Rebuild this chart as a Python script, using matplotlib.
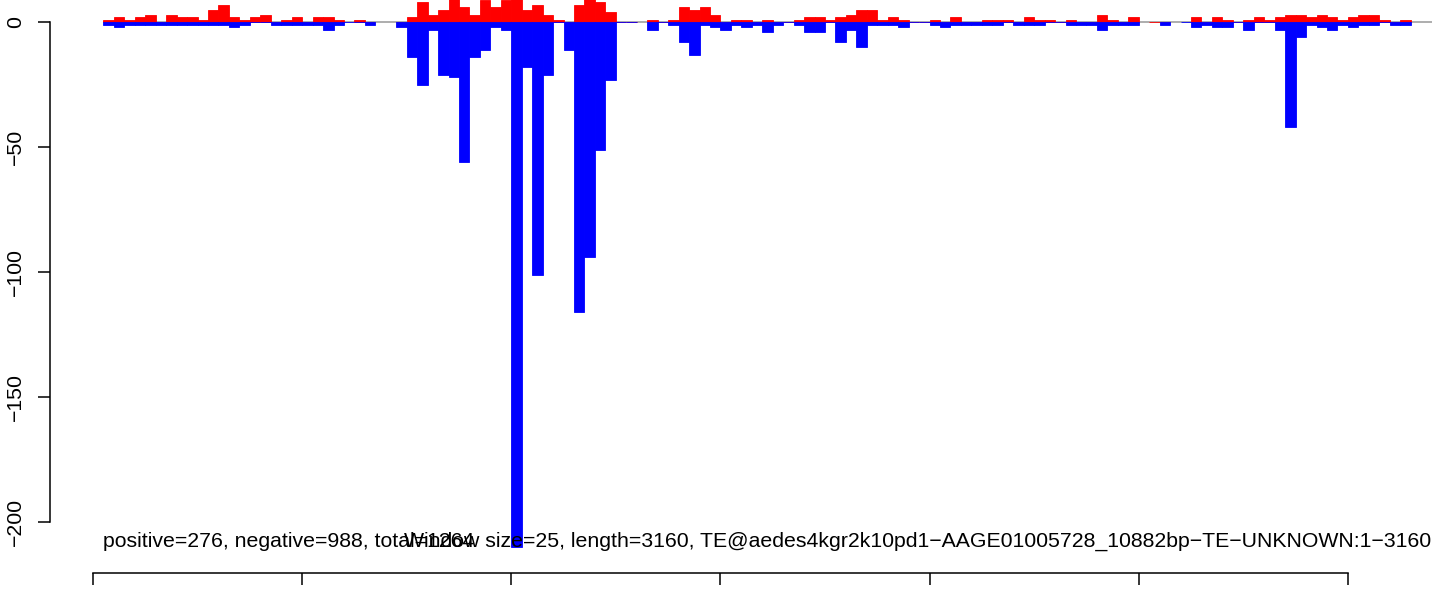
import numpy as np
import matplotlib.pyplot as plt

window = 25
length = 3160
name = "TE@aedes4kgr2k10pd1\u2212AAGE01005728_10882bp\u2212TE\u2212UNKNOWN:1\u22123160"

# reads per window, sense strand (red) and antisense strand (blue)
positive = [1, 2, 1, 2, 3, 0, 3, 2, 2, 1, 5, 7, 2, 1, 2, 3, 0, 1, 2, 0,
            2, 2, 1, np.nan, 1, 0, np.nan, np.nan, 0, 2, 8, 3, 5, 12, 6, 3, 9, 6, 9, 12,
            5, 7, 3, 1, 0, 7, 12, 8, 4, 0, 0, np.nan, 1, 0, 1, 6, 5, 6, 3, 0,
            1, 1, 0, 1, 0, 0, 1, 2, 2, 1, 2, 3, 5, 5, 1, 2, 1, 0, 0, 1,
            0, 2, 0, 0, 1, 1, 1, 0, 2, 1, 1, 0, 1, 0, 0, 3, 1, 0, 2, np.nan,
            0, 0, np.nan, np.nan, 2, 0, 2, 1, 0, 1, 2, 1, 2, 3, 3, 2, 3, 2, 1, 2,
            3, 3, 1, 0, 1]
negative = [1, 2, 1, 1, 1, 1, 1, 1, 1, 1, 1, 1, 2, 1, 0, 0, 1, 1, 1, 1,
            1, 3, 1, 0, 0, 1, np.nan, np.nan, 2, 14, 25, 3, 21, 22, 56, 14, 11, 2, 3, 210,
            18, 101, 21, 0, 11, 116, 94, 51, 23, 0, 0, np.nan, 3, 0, 1, 8, 13, 1, 2, 3,
            1, 2, 1, 4, 1, 0, 1, 4, 4, 0, 8, 3, 10, 1, 1, 1, 2, 0, 0, 1,
            2, 1, 1, 1, 1, 1, 0, 1, 1, 1, 0, 0, 1, 1, 1, 3, 1, 1, 1, np.nan,
            np.nan, 1, np.nan, 0, 2, 1, 2, 2, 0, 3, 0, 0, 3, 42, 6, 1, 2, 3, 1, 2,
            1, 1, 0, 1, 1]

n_pos = 276
n_neg = 988

pos = np.array(positive, dtype=float)
neg = -np.array(negative, dtype=float)
starts = window * np.arange(1, len(pos) + 1)

plt.rcParams['font.family'] = ['Liberation Sans', 'DejaVu Sans']
fig = plt.figure(figsize=(14.44, 5.92), dpi=100)
ax = fig.add_axes([0, 0, 1, 1])

ax.hlines(0, window, 3200, color='#a0a0a0', lw=1.2, zorder=1)
ax.bar(starts, pos, width=window, align='edge', color='red', edgecolor='red', lw=0.6, zorder=2)
ax.bar(starts, neg, width=window, align='edge', color='blue', edgecolor='blue', lw=0.6, zorder=2)

# both labels sit on the same line and overlap, as in the original
ax.text(window, -207.8, f"positive={n_pos}, negative={n_neg}, total={n_pos + n_neg}",
        ha='left', va='center', fontsize=15.3)
ax.text(3200, -207.8, f"Window size={window}, length={length}, {name}",
        ha='right', va='center', fontsize=15.3)

ax.set_xlim(-222.3, 3229.8)
ax.set_ylim(-228, 8.8)
ax.patch.set_visible(False)
for s in ['top', 'right']:
    ax.spines[s].set_visible(False)
ax.spines['left'].set_position(('data', -103))
ax.spines['left'].set_bounds(-200, 0)
ax.spines['bottom'].set_position(('data', -220.4))
ax.spines['bottom'].set_bounds(0, 3000)
for s in ['left', 'bottom']:
    ax.spines[s].set_linewidth(1.1)

ax.set_yticks([0, -50, -100, -150, -200])
ax.set_xticks(np.arange(0, 3001, 500))
ax.tick_params(direction='out', length=8.6, width=1.1, labelsize=15.3, pad=9.5)
ax.tick_params(axis='x', labelbottom=False)
for lab in ax.get_yticklabels():
    lab.set_rotation(90)
    lab.set_va('center')

fig.savefig('out.png', dpi=100)
